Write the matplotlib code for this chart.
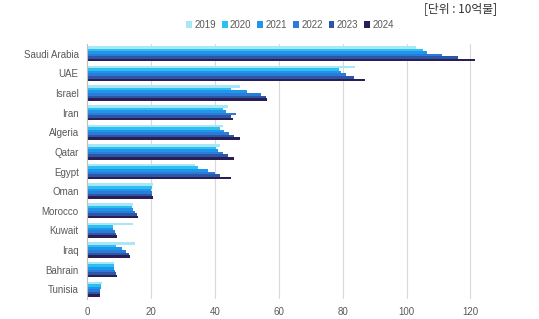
import matplotlib
matplotlib.use("Agg")
import matplotlib.pyplot as plt
import numpy as np
from matplotlib.patches import Patch

countries = ["Saudi Arabia", "UAE", "Israel", "Iran", "Algeria", "Qatar", "Egypt",
             "Oman", "Morocco", "Kuwait", "Iraq", "Bahrain", "Tunisia"]
years = ["2019", "2020", "2021", "2022", "2023", "2024"]
v2019 = [103, 84, 48, 44, 42.5, 41.6, 33.8, 20.5, 14.3, 14.3, 15.0, 8.5, 4.6]
v2020 = [105, 79, 45, 42.6, 41.5, 40.5, 34.8, 20.2, 14.0, 8.2, 9.0, 8.5, 4.3]
v2021 = [106.5, 79.5, 50, 43.6, 43, 41, 37.9, 20.0, 14.3, 8.0, 10.8, 8.5, 4.3]
v2022 = [111, 81, 54.5, 46.6, 44.5, 42.6, 40, 20.2, 15.0, 8.7, 12.2, 8.8, 4.1]
v2023 = [116, 83.5, 56, 45.2, 46, 44.2, 41.6, 20.2, 15.5, 9.0, 13.0, 9.0, 4.0]
v2024 = [121.5, 87, 56.4, 45.7, 47.8, 46, 45.2, 20.7, 16.0, 9.5, 13.4, 9.5, 4.0]
series = [v2019, v2020, v2021, v2022, v2023, v2024]
colors = ["#A9E6F7", "#2BC0EE", "#1F96EC", "#2D7BD8", "#2B57A6", "#2A1E57"]
xticks = [0, 20, 40, 60, 80, 100, 120]

plt.rcParams['font.family'] = ['Liberation Sans', 'DejaVu Sans']
fig = plt.figure(figsize=(5.39, 3.19), dpi=100)
W, H = 539, 319
ax = fig.add_axes([87 / W, 1 - 299 / H, (496 - 87) / W, (299 - 44) / H])

n = len(countries)
group = 0.78
bh = group / len(years)
y = np.arange(n)
for i, (vals, c) in enumerate(zip(series, colors)):
    offs = -group / 2 + bh * (i + 0.5)
    ax.barh(y + offs, vals, height=bh, color=c, linewidth=0)

ax.set_ylim(n - 0.5, -0.5)
ax.set_xlim(0, 128)
ax.set_xticks(xticks)
ax.set_xticklabels([str(t) for t in xticks])
ax.set_yticks(y)
ax.set_yticklabels(countries)
ax.tick_params(axis='both', length=0, labelsize=7, colors="#595959")
ax.tick_params(axis='x', pad=6)
ax.tick_params(axis='y', pad=6)
ax.grid(axis='x', color="#D9D9D9", linewidth=0.8)
ax.set_axisbelow(True)
for s in ["top", "right", "bottom"]:
    ax.spines[s].set_visible(False)
ax.spines["left"].set_color("#BFBFBF")
ax.spines["left"].set_linewidth(0.8)

handles = [Patch(facecolor=c, edgecolor='none', label=yr) for c, yr in zip(colors, years)]
fig.legend(handles=handles, loc='center', bbox_to_anchor=(290 / W, 1 - 25 / H), ncol=6,
           frameon=False, fontsize=7, handlelength=0.6, handleheight=0.6,
           handletextpad=0.25, columnspacing=0.6, labelcolor="#595959")

fig.text(497 / W, 1 - 9 / H, "[단위 : 10억불]", ha='right', va='center', fontsize=8.5,
         color="#333333", family=['Noto Sans CJK KR', 'DejaVu Sans'])

fig.savefig("out.png", dpi=100)
